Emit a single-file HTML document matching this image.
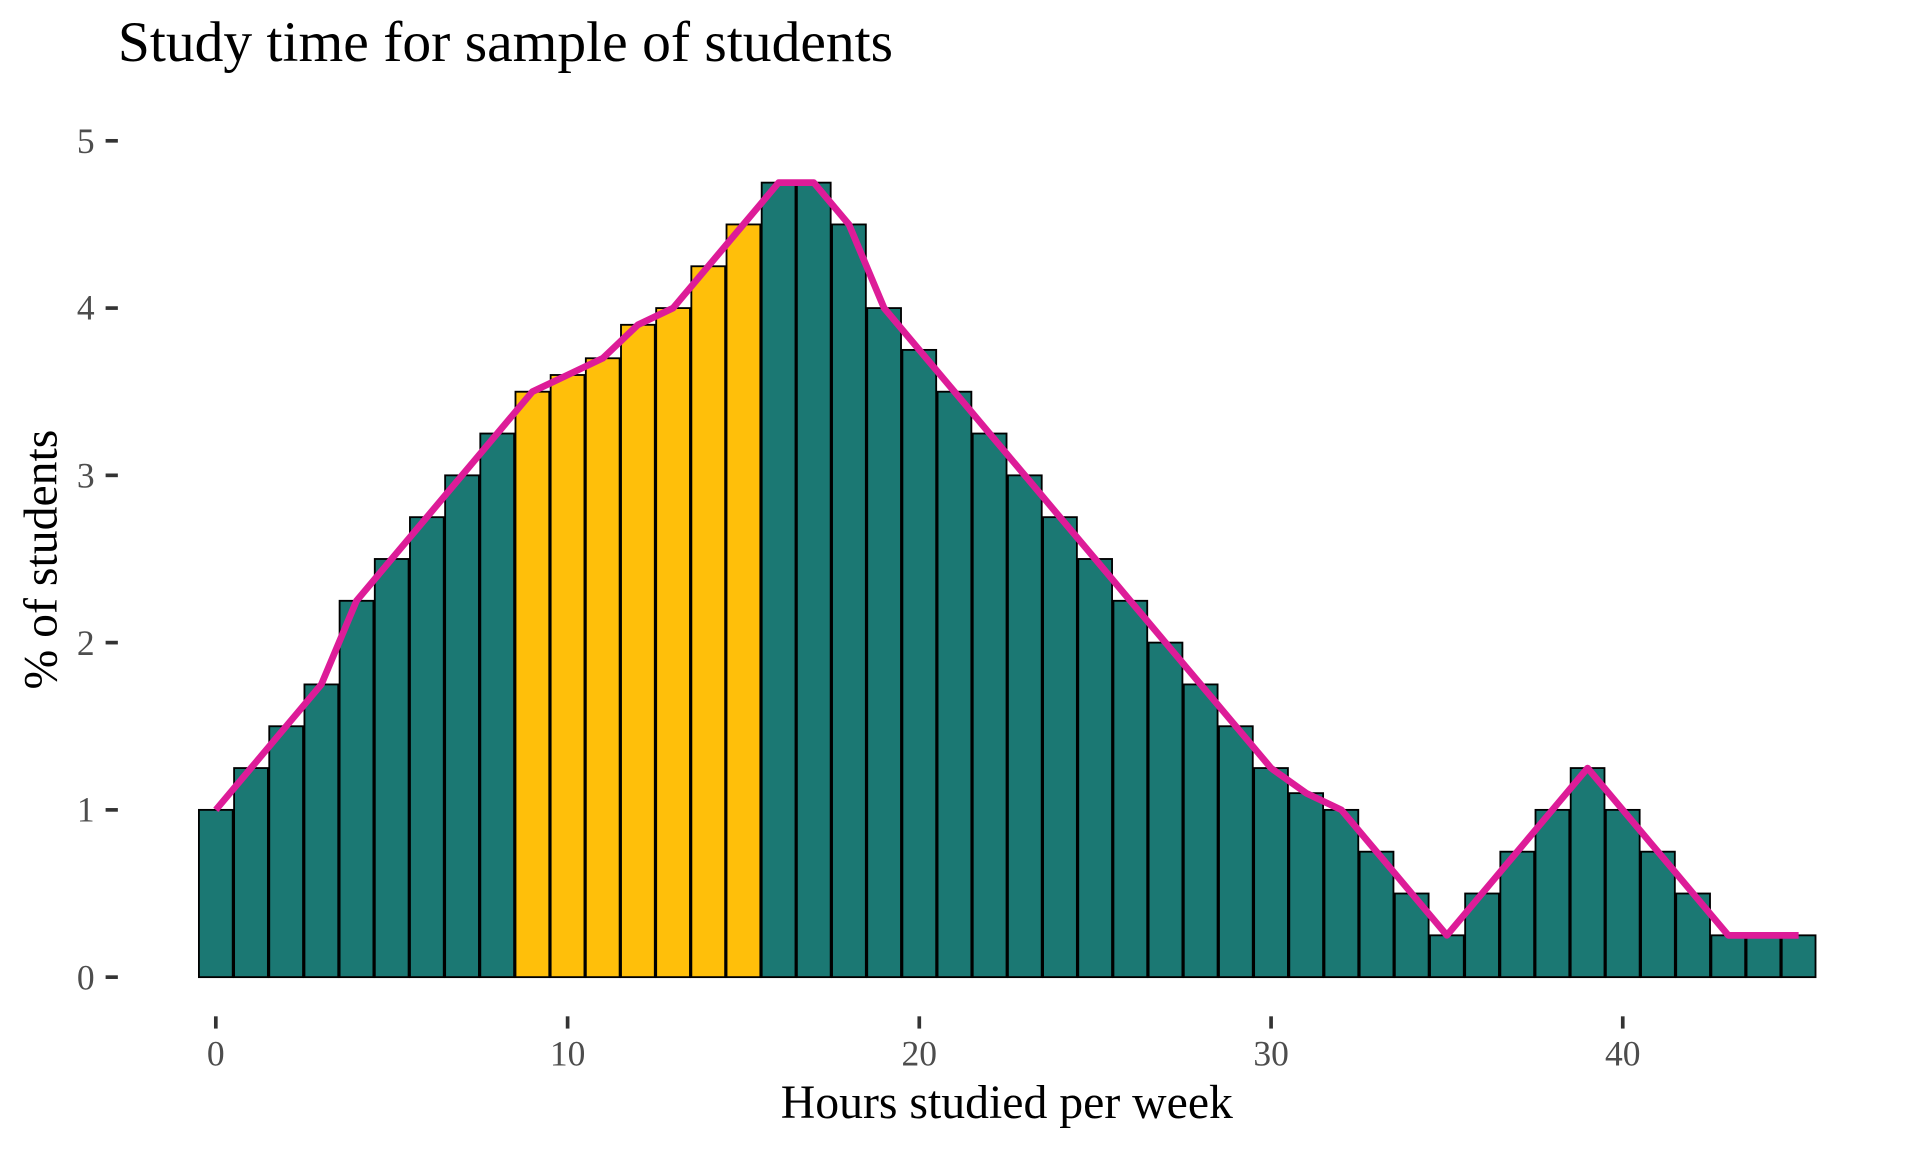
<!DOCTYPE html>
<html><head><meta charset="utf-8"><style>html,body{margin:0;padding:0;background:#fff}svg{display:block}</style></head>
<body>
<svg xmlns="http://www.w3.org/2000/svg" width="1920" height="1152" viewBox="0 0 1567.5 940.8">
<rect width="1567.5" height="940.8" fill="#fff"/>
<g font-family="Liberation Serif, serif">
<text x="96" y="50" font-size="47" fill="#000">Study time for sample of students</text>
<g font-size="29" fill="#4d4d4d" text-anchor="end">
<text x="77" y="808">0</text><text x="77" y="671">1</text><text x="77" y="535">2</text><text x="77" y="398">3</text><text x="77" y="261">4</text><text x="77" y="125">5</text>
</g>
<g stroke="#333" stroke-width="3">
<line x1="86" x2="96" y1="798" y2="798"/><line x1="86" x2="96" y1="661.4" y2="661.4"/><line x1="86" x2="96" y1="524.8" y2="524.8"/><line x1="86" x2="96" y1="388.2" y2="388.2"/><line x1="86" x2="96" y1="251.6" y2="251.6"/><line x1="86" x2="96" y1="115" y2="115"/>
<line x1="176" x2="176" y1="830" y2="840"/><line x1="463.3" x2="463.3" y1="830" y2="840"/><line x1="750.5" x2="750.5" y1="830" y2="840"/><line x1="1037.8" x2="1037.8" y1="830" y2="840"/><line x1="1325" x2="1325" y1="830" y2="840"/>
</g>
<g font-size="29" fill="#4d4d4d" text-anchor="middle">
<text x="176" y="870">0</text><text x="463.3" y="870">10</text><text x="750.5" y="870">20</text><text x="1037.8" y="870">30</text><text x="1325" y="870">40</text>
</g>
<text x="822" y="913" font-size="39" text-anchor="middle">Hours studied per week</text>
<text transform="translate(46,457) rotate(-90)" font-size="39" text-anchor="middle">% of students</text>
</g>
<g stroke="#000" stroke-width="1.5" fill="#1b7873">
<rect x="162.2" y="661.4" width="27.6" height="136.6"/>
<rect x="190.93" y="627.25" width="27.6" height="170.75"/>
<rect x="219.65" y="593.1" width="27.6" height="204.9"/>
<rect x="248.38" y="558.95" width="27.6" height="239.05"/>
<rect x="277.1" y="490.65" width="27.6" height="307.35"/>
<rect x="305.83" y="456.5" width="27.6" height="341.5"/>
<rect x="334.55" y="422.35" width="27.6" height="375.65"/>
<rect x="363.28" y="388.2" width="27.6" height="409.8"/>
<rect x="392" y="354.05" width="27.6" height="443.95"/>
<g fill="#ffbf0a">
<rect x="420.73" y="319.9" width="27.6" height="478.1"/>
<rect x="449.45" y="306.24" width="27.6" height="491.76"/>
<rect x="478.18" y="292.58" width="27.6" height="505.42"/>
<rect x="506.9" y="265.26" width="27.6" height="532.74"/>
<rect x="535.63" y="251.6" width="27.6" height="546.4"/>
<rect x="564.35" y="217.45" width="27.6" height="580.55"/>
<rect x="593.08" y="183.3" width="27.6" height="614.7"/>
</g>
<rect x="621.8" y="149.15" width="27.6" height="648.85"/>
<rect x="650.53" y="149.15" width="27.6" height="648.85"/>
<rect x="679.25" y="183.3" width="27.6" height="614.7"/>
<rect x="707.98" y="251.6" width="27.6" height="546.4"/>
<rect x="736.7" y="285.75" width="27.6" height="512.25"/>
<rect x="765.43" y="319.9" width="27.6" height="478.1"/>
<rect x="794.15" y="354.05" width="27.6" height="443.95"/>
<rect x="822.88" y="388.2" width="27.6" height="409.8"/>
<rect x="851.6" y="422.35" width="27.6" height="375.65"/>
<rect x="880.33" y="456.5" width="27.6" height="341.5"/>
<rect x="909.05" y="490.65" width="27.6" height="307.35"/>
<rect x="937.78" y="524.8" width="27.6" height="273.2"/>
<rect x="966.5" y="558.95" width="27.6" height="239.05"/>
<rect x="995.23" y="593.1" width="27.6" height="204.9"/>
<rect x="1023.95" y="627.25" width="27.6" height="170.75"/>
<rect x="1052.68" y="647.74" width="27.6" height="150.26"/>
<rect x="1081.4" y="661.4" width="27.6" height="136.6"/>
<rect x="1110.13" y="695.55" width="27.6" height="102.45"/>
<rect x="1138.85" y="729.7" width="27.6" height="68.3"/>
<rect x="1167.58" y="763.85" width="27.6" height="34.15"/>
<rect x="1196.3" y="729.7" width="27.6" height="68.3"/>
<rect x="1225.03" y="695.55" width="27.6" height="102.45"/>
<rect x="1253.75" y="661.4" width="27.6" height="136.6"/>
<rect x="1282.48" y="627.25" width="27.6" height="170.75"/>
<rect x="1311.2" y="661.4" width="27.6" height="136.6"/>
<rect x="1339.93" y="695.55" width="27.6" height="102.45"/>
<rect x="1368.65" y="729.7" width="27.6" height="68.3"/>
<rect x="1397.38" y="763.85" width="27.6" height="34.15"/>
<rect x="1426.1" y="763.85" width="27.6" height="34.15"/>
<rect x="1454.83" y="763.85" width="27.6" height="34.15"/>
</g>
<polyline fill="none" stroke="#dd1c98" stroke-width="5.5" stroke-linejoin="round" points="176,661.4 204.73,627.25 233.45,593.1 262.18,558.95 290.9,490.65 319.63,456.5 348.35,422.35 377.08,388.2 405.8,354.05 434.53,319.9 463.25,306.24 491.98,292.58 520.7,265.26 549.43,251.6 578.15,217.45 606.88,183.3 635.6,149.15 664.33,149.15 693.05,183.3 721.78,251.6 750.5,285.75 779.23,319.9 807.95,354.05 836.68,388.2 865.4,422.35 894.13,456.5 922.85,490.65 951.58,524.8 980.3,558.95 1009.03,593.1 1037.75,627.25 1066.48,647.74 1095.2,661.4 1123.93,695.55 1152.65,729.7 1181.38,763.85 1210.1,729.7 1238.83,695.55 1267.55,661.4 1296.28,627.25 1325,661.4 1353.73,695.55 1382.45,729.7 1411.18,763.85 1439.9,763.85 1468.63,763.85"/>
</svg>
</body></html>
